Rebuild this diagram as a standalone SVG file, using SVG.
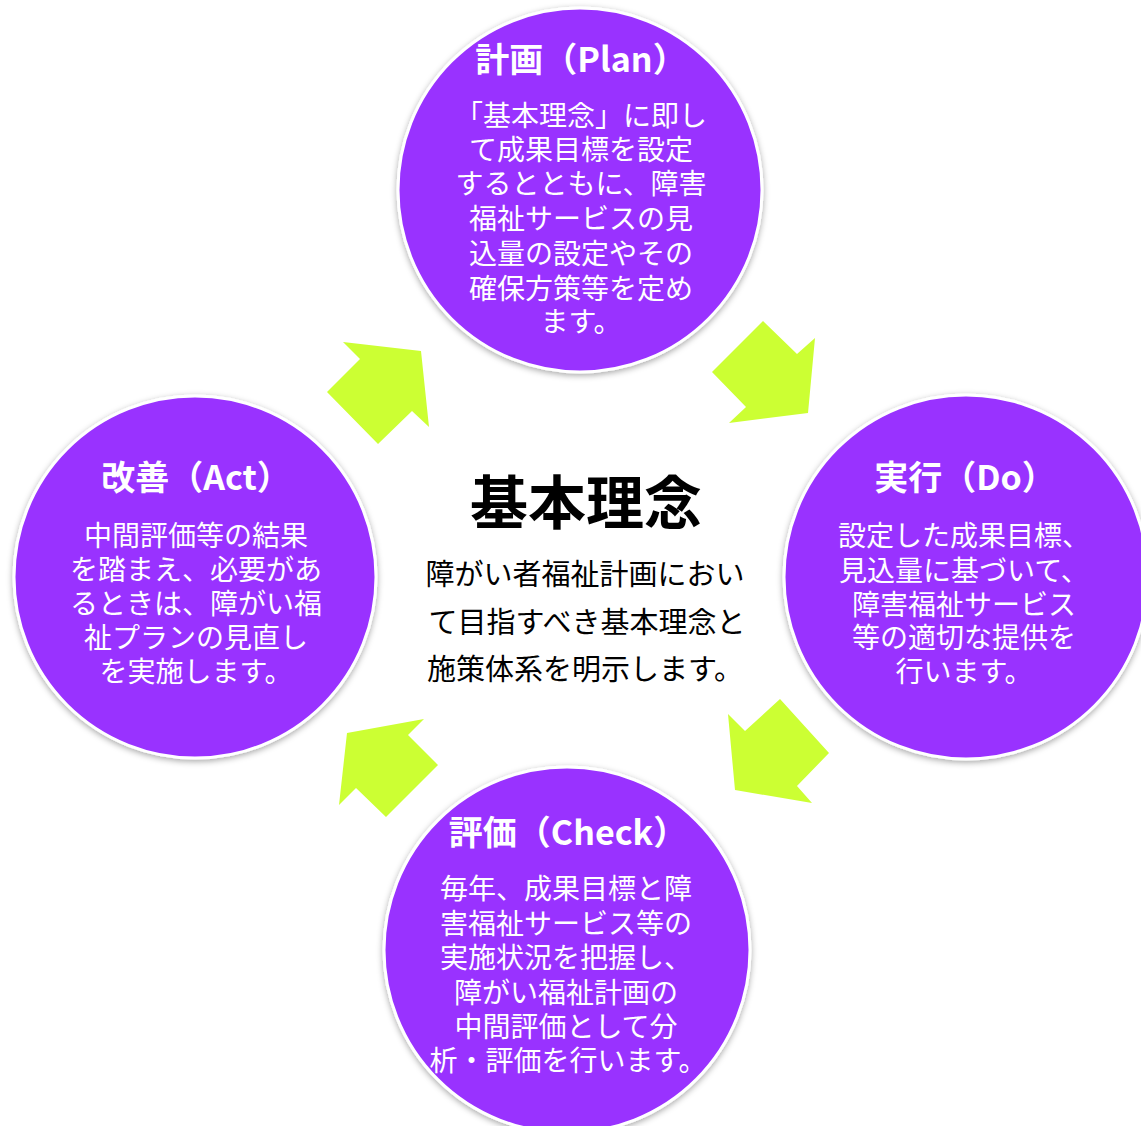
<svg xmlns="http://www.w3.org/2000/svg" width="1141" height="1126" viewBox="0 0 1141 1126">
<defs>
<filter id="sh" x="-20%" y="-20%" width="140%" height="140%">
<feDropShadow dx="0" dy="2" stdDeviation="3" flood-color="#000" flood-opacity="0.35"/>
</filter>
<style>
.c{fill:#9933FF;stroke:#FFFFFF;stroke-width:3;filter:url(#sh)}
.t{font-family:"Noto Sans CJK JP","Noto Sans",sans-serif;font-weight:bold;font-size:34px;fill:#FFFFFF;text-anchor:middle}
.b{font-family:"Noto Sans CJK JP","Noto Sans",sans-serif;font-size:28px;fill:#FFFFFF;text-anchor:middle}
.ar{fill:#CCFF33}
.ct{font-family:"Noto Sans CJK JP",sans-serif;font-weight:bold;font-size:58px;fill:#000;text-anchor:middle}
.cb{font-family:"Noto Sans CJK JP",sans-serif;font-size:29px;fill:#000;text-anchor:middle}
</style>
</defs>
<rect width="1141" height="1126" fill="#FFFFFF"/>
<g id="connectors">
<polygon class="ar" points="343,342 421,351 429,427 412,411 378,444 327,392 360,359"/>
<polygon class="ar" points="763,321 797,354 815,338 808,413 729,423 746,407 712,372"/>
<polygon class="ar" points="780,699 829,753 797,786 812,803 735,790 728,714 745,731"/>
<polygon class="ar" points="424,719 408,735 438,765 386,817 356,788 339,805 347,733"/>
</g>
<g id="center">
<text class="ct" x="586" y="524">基本理念</text>
<text class="cb" y="585"><tspan x="585">障がい者福祉計画におい</tspan><tspan x="587" dy="48">て目指すべき基本理念と</tspan><tspan x="585" dy="47">施策体系を明示します。</tspan></text>
</g>
<g id="plan">
<circle class="c" cx="580" cy="190" r="182"/>
<text class="t" x="581" y="72">計画（Plan）</text>
<text class="b" y="126"><tspan x="581">「基本理念」に即し</tspan><tspan x="581" dy="34">て成果目標を設定</tspan><tspan x="581" dy="34">するとともに、障害</tspan><tspan x="581" dy="34.5">福祉サービスの見</tspan><tspan x="581" dy="35">込量の設定やその</tspan><tspan x="581" dy="35">確保方策等を定め</tspan><tspan x="581" dy="33.5">ます。</tspan></text>
</g>
<g id="do">
<circle class="c" cx="966" cy="577" r="182"/>
<text class="t" x="965" y="490">実行（Do）</text>
<text class="b" y="546"><tspan x="964">設定した成果目標、</tspan><tspan x="964" dy="35">見込量に基づいて、</tspan><tspan x="964" dy="34">障害福祉サービス</tspan><tspan x="964" dy="33">等の適切な提供を</tspan><tspan x="964" dy="34">行います。</tspan></text>
</g>
<g id="check">
<circle class="c" cx="567" cy="950" r="183"/>
<text class="t" x="568" y="845">評価（Check）</text>
<text class="b" y="899"><tspan x="566">毎年、成果目標と障</tspan><tspan x="566" dy="35">害福祉サービス等の</tspan><tspan x="566" dy="34">実施状況を把握し、</tspan><tspan x="566" dy="35">障がい福祉計画の</tspan><tspan x="566" dy="34">中間評価として分</tspan><tspan x="568" dy="34">析・評価を行います。</tspan></text>
</g>
<g id="act">
<circle class="c" cx="195" cy="577" r="181"/>
<text class="t" x="196" y="490">改善（Act）</text>
<text class="b" y="546"><tspan x="196">中間評価等の結果</tspan><tspan x="196" dy="34">を踏まえ、必要があ</tspan><tspan x="196" dy="34">るときは、障がい福</tspan><tspan x="196" dy="34">祉プランの見直し</tspan><tspan x="196" dy="34">を実施します。</tspan></text>
</g>
</svg>
